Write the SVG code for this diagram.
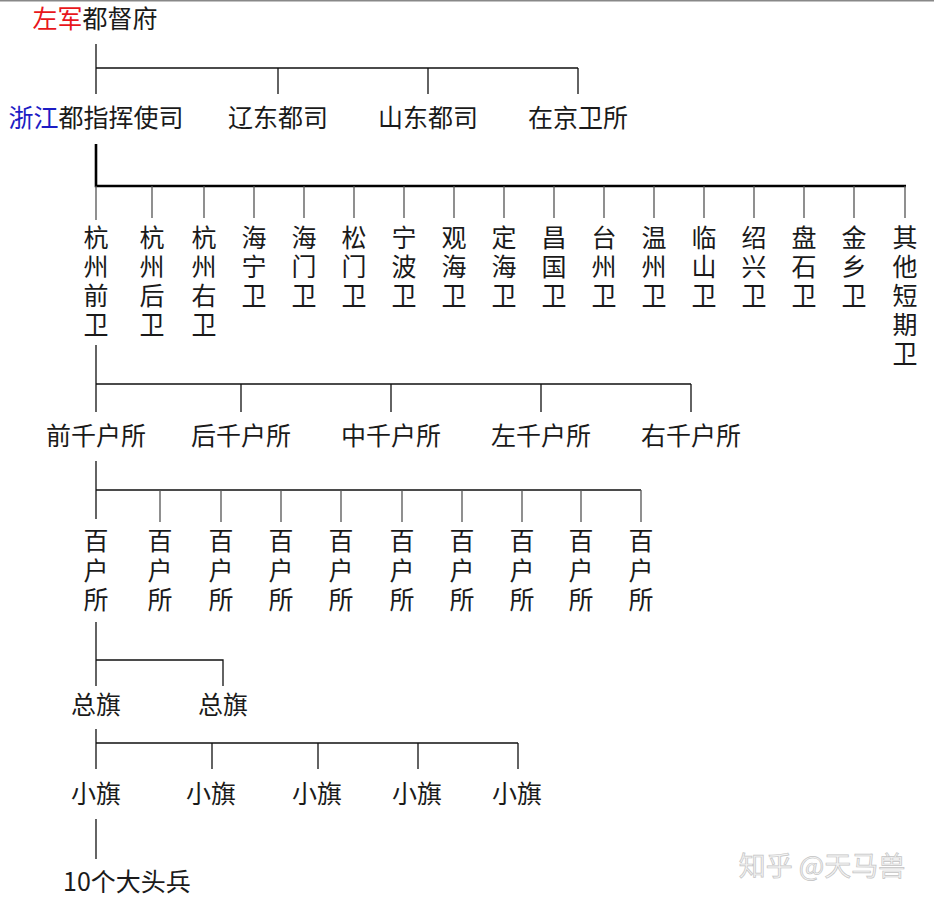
<svg xmlns="http://www.w3.org/2000/svg" width="934" height="903" viewBox="0 0 934 903">
<style>
text{font-family:"Noto Sans CJK SC","Noto Sans",sans-serif;font-size:25px;fill:#1a1a1a;text-anchor:middle}
.c{stroke:#111;stroke-width:1.3;fill:none}
.t{stroke:#555;stroke-width:1.3;fill:none}
.k{stroke:#000;stroke-width:2.6;fill:none}
.wm{font-size:27px;fill:#f3f3f3;stroke:#c4c4c4;stroke-width:0.7}
</style>
<rect width="934" height="903" fill="#fff"/>
<line x1="0" y1="0.7" x2="934" y2="0.7" stroke="#888" stroke-width="1.4"/>
<g id="connectors">
<path class="c" d="M96 44V94M96 68H578M278 68V94M428 68V94M578 68V94"/>
<path class="k" d="M96 144V186H906"/>
<path class="t" d="M96 186V220M152 186V218M204 186V218M254 186V218M304 186V218M354 186V218M404 186V218M454 186V218M504 186V218M554 186V218M604 186V218M654 186V218M704 186V218M754 186V218M804 186V218M854 186V218M905 186V218"/>
<path class="c" d="M96 345V412M96 384H691M241 384V412M391 384V412M541 384V412M691 384V412"/>
<path class="c" d="M96 461V519M96 490H641"/>
<path class="t" d="M160 490V522M221 490V522M281 490V522M341 490V522M402 490V522M462 490V522M522 490V522M581 490V522M641 490V522"/>
<path class="c" d="M96 622V686M96 660H223V686"/>
<path class="c" d="M96 729V769M96 743H518M212 743V769M318 743V769M418 743V769M518 743V769"/>
<path class="c" d="M96 819V859"/>
</g>
<g id="n-zuojun"><text x="95" y="28"><tspan fill="#e8161b">左军</tspan>都督府</text></g>
<g id="n-zhejiang"><text x="96" y="127"><tspan fill="#1c1cc4">浙江</tspan>都指挥使司</text></g>
<g id="n-liaodong"><text x="278" y="127">辽东都司</text></g>
<g id="n-shandong"><text x="428" y="127">山东都司</text></g>
<g id="n-zaijing"><text x="578" y="127">在京卫所</text></g>
<g id="w1"><text><tspan x="96" y="247">杭</tspan><tspan x="96" y="276">州</tspan><tspan x="96" y="305">前</tspan><tspan x="96" y="334">卫</tspan></text></g>
<g id="w2"><text><tspan x="152" y="247">杭</tspan><tspan x="152" y="276">州</tspan><tspan x="152" y="305">后</tspan><tspan x="152" y="334">卫</tspan></text></g>
<g id="w3"><text><tspan x="204" y="247">杭</tspan><tspan x="204" y="276">州</tspan><tspan x="204" y="305">右</tspan><tspan x="204" y="334">卫</tspan></text></g>
<g id="w4"><text><tspan x="254" y="247">海</tspan><tspan x="254" y="276">宁</tspan><tspan x="254" y="305">卫</tspan></text></g>
<g id="w5"><text><tspan x="304" y="247">海</tspan><tspan x="304" y="276">门</tspan><tspan x="304" y="305">卫</tspan></text></g>
<g id="w6"><text><tspan x="354" y="247">松</tspan><tspan x="354" y="276">门</tspan><tspan x="354" y="305">卫</tspan></text></g>
<g id="w7"><text><tspan x="404" y="247">宁</tspan><tspan x="404" y="276">波</tspan><tspan x="404" y="305">卫</tspan></text></g>
<g id="w8"><text><tspan x="454" y="247">观</tspan><tspan x="454" y="276">海</tspan><tspan x="454" y="305">卫</tspan></text></g>
<g id="w9"><text><tspan x="504" y="247">定</tspan><tspan x="504" y="276">海</tspan><tspan x="504" y="305">卫</tspan></text></g>
<g id="w10"><text><tspan x="554" y="247">昌</tspan><tspan x="554" y="276">国</tspan><tspan x="554" y="305">卫</tspan></text></g>
<g id="w11"><text><tspan x="604" y="247">台</tspan><tspan x="604" y="276">州</tspan><tspan x="604" y="305">卫</tspan></text></g>
<g id="w12"><text><tspan x="654" y="247">温</tspan><tspan x="654" y="276">州</tspan><tspan x="654" y="305">卫</tspan></text></g>
<g id="w13"><text><tspan x="704" y="247">临</tspan><tspan x="704" y="276">山</tspan><tspan x="704" y="305">卫</tspan></text></g>
<g id="w14"><text><tspan x="754" y="247">绍</tspan><tspan x="754" y="276">兴</tspan><tspan x="754" y="305">卫</tspan></text></g>
<g id="w15"><text><tspan x="804" y="247">盘</tspan><tspan x="804" y="276">石</tspan><tspan x="804" y="305">卫</tspan></text></g>
<g id="w16"><text><tspan x="854" y="247">金</tspan><tspan x="854" y="276">乡</tspan><tspan x="854" y="305">卫</tspan></text></g>
<g id="w17"><text><tspan x="905" y="247">其</tspan><tspan x="905" y="276">他</tspan><tspan x="905" y="305">短</tspan><tspan x="905" y="334">期</tspan><tspan x="905" y="363">卫</tspan></text></g>
<g id="q1"><text x="96" y="445">前千户所</text></g>
<g id="q2"><text x="241" y="445">后千户所</text></g>
<g id="q3"><text x="391" y="445">中千户所</text></g>
<g id="q4"><text x="541" y="445">左千户所</text></g>
<g id="q5"><text x="691" y="445">右千户所</text></g>
<g id="b1"><text><tspan x="96" y="550">百</tspan><tspan x="96" y="580">户</tspan><tspan x="96" y="609">所</tspan></text></g>
<g id="b2"><text><tspan x="160" y="550">百</tspan><tspan x="160" y="580">户</tspan><tspan x="160" y="609">所</tspan></text></g>
<g id="b3"><text><tspan x="221" y="550">百</tspan><tspan x="221" y="580">户</tspan><tspan x="221" y="609">所</tspan></text></g>
<g id="b4"><text><tspan x="281" y="550">百</tspan><tspan x="281" y="580">户</tspan><tspan x="281" y="609">所</tspan></text></g>
<g id="b5"><text><tspan x="341" y="550">百</tspan><tspan x="341" y="580">户</tspan><tspan x="341" y="609">所</tspan></text></g>
<g id="b6"><text><tspan x="402" y="550">百</tspan><tspan x="402" y="580">户</tspan><tspan x="402" y="609">所</tspan></text></g>
<g id="b7"><text><tspan x="462" y="550">百</tspan><tspan x="462" y="580">户</tspan><tspan x="462" y="609">所</tspan></text></g>
<g id="b8"><text><tspan x="522" y="550">百</tspan><tspan x="522" y="580">户</tspan><tspan x="522" y="609">所</tspan></text></g>
<g id="b9"><text><tspan x="581" y="550">百</tspan><tspan x="581" y="580">户</tspan><tspan x="581" y="609">所</tspan></text></g>
<g id="b10"><text><tspan x="641" y="550">百</tspan><tspan x="641" y="580">户</tspan><tspan x="641" y="609">所</tspan></text></g>
<g id="z1"><text x="96" y="714">总旗</text></g>
<g id="z2"><text x="223" y="714">总旗</text></g>
<g id="x1"><text x="96" y="803">小旗</text></g>
<g id="x2"><text x="211" y="803">小旗</text></g>
<g id="x3"><text x="317" y="803">小旗</text></g>
<g id="x4"><text x="417" y="803">小旗</text></g>
<g id="x5"><text x="517" y="803">小旗</text></g>
<g id="soldiers"><text x="63" y="891" style="text-anchor:start">10个大头兵</text></g>
<text class="wm" x="822" y="876">知乎 @天马兽</text>
</svg>
